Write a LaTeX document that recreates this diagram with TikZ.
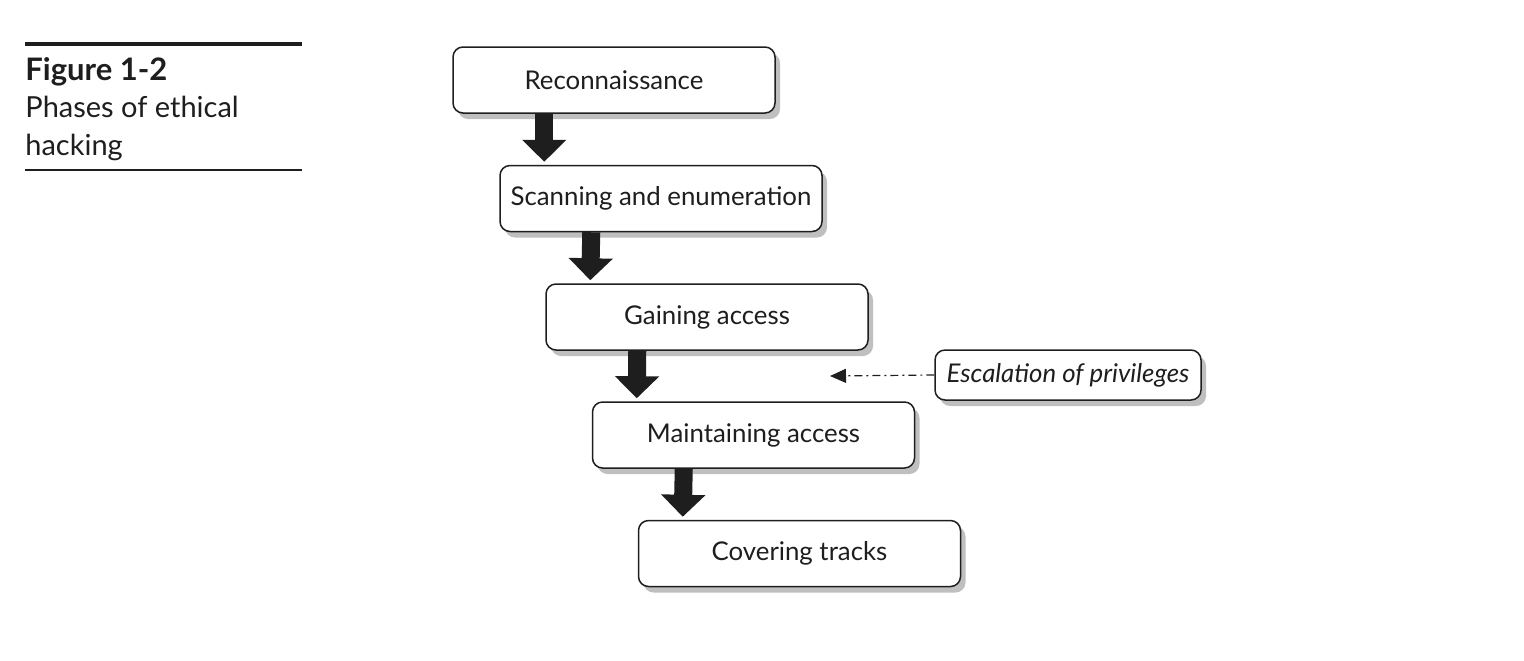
\documentclass[tikz,border=0pt]{standalone}
\usepackage{fontspec}
\setmainfont{Lato}
\usetikzlibrary{arrows.meta,shadows,calc}

\definecolor{inkgray}{HTML}{1E1E1E}

\tikzset{
  phase/.style={draw=inkgray, line width=0.75pt, rounded corners=5pt, fill=white,
    minimum width=161pt, minimum height=33pt, inner sep=0pt, text=inkgray,
    font=\fontsize{12.9}{15}\selectfont,
    drop shadow={shadow xshift=2.5pt, shadow yshift=-3pt, opacity=0.25, fill=black}},
  fatarrow/.style={draw=inkgray, line width=9pt,
    -{Triangle[width=21.5pt, length=11pt, fill=inkgray]}},
  escline/.style={draw=inkgray, line width=0.6pt,
    dash pattern=on 4pt off 2pt on 1pt off 2pt,
    -{Triangle[width=7pt, length=8pt, fill=inkgray]}},
  captext/.style={anchor=base west, inner sep=0pt, text=inkgray, font=\fontsize{14.5}{17}\selectfont}
}

\begin{document}
\begin{tikzpicture}[x=0.5pt,y=0.5pt,yscale=-1]
  \useasboundingbox (0,0) rectangle (1524,660);

  % caption
  \draw[line width=2pt, inkgray] (25,44) -- (302,44);
  \draw[line width=1pt, inkgray] (25,170) -- (302,170);
  \node[captext, font=\fontsize{15.5}{18}\bfseries] (figlabel) at (25,80) {Figure 1-2};
  \node[captext] (figtitle) at (25,117) {Phases of ethical};
  \node[captext] (figtitlb) at (25,155) {hacking};

  % phases
  \node[phase] (recon) at (614,80) {Reconnaissance};
  \node[phase] (scan) at (661,198.5) {Scanning and enumeration};
  \node[phase] (gain) at (707,317) {Gaining access};
  \node[phase] (maint) at (753.5,435) {Maintaining access};
  \node[phase] (cover) at (799.5,553.5) {Covering tracks};

  % escalation
  \node[phase, minimum width=133pt, minimum height=25pt, font=\fontsize{12.9}{15}\itshape] (esc) at (1068,375) {Escalation of privileges};
  \coordinate (esctip) at (830,376);
  \draw[escline] (esc.west) -- (esctip);

  % arrows
  \foreach \a/\b in {recon/scan,scan/gain,gain/maint,maint/cover}
    \draw[fatarrow] ($(\a.south west)+(92,0)$) -- ($(\b.north west)+(45,-3)$);
\end{tikzpicture}
\end{document}
